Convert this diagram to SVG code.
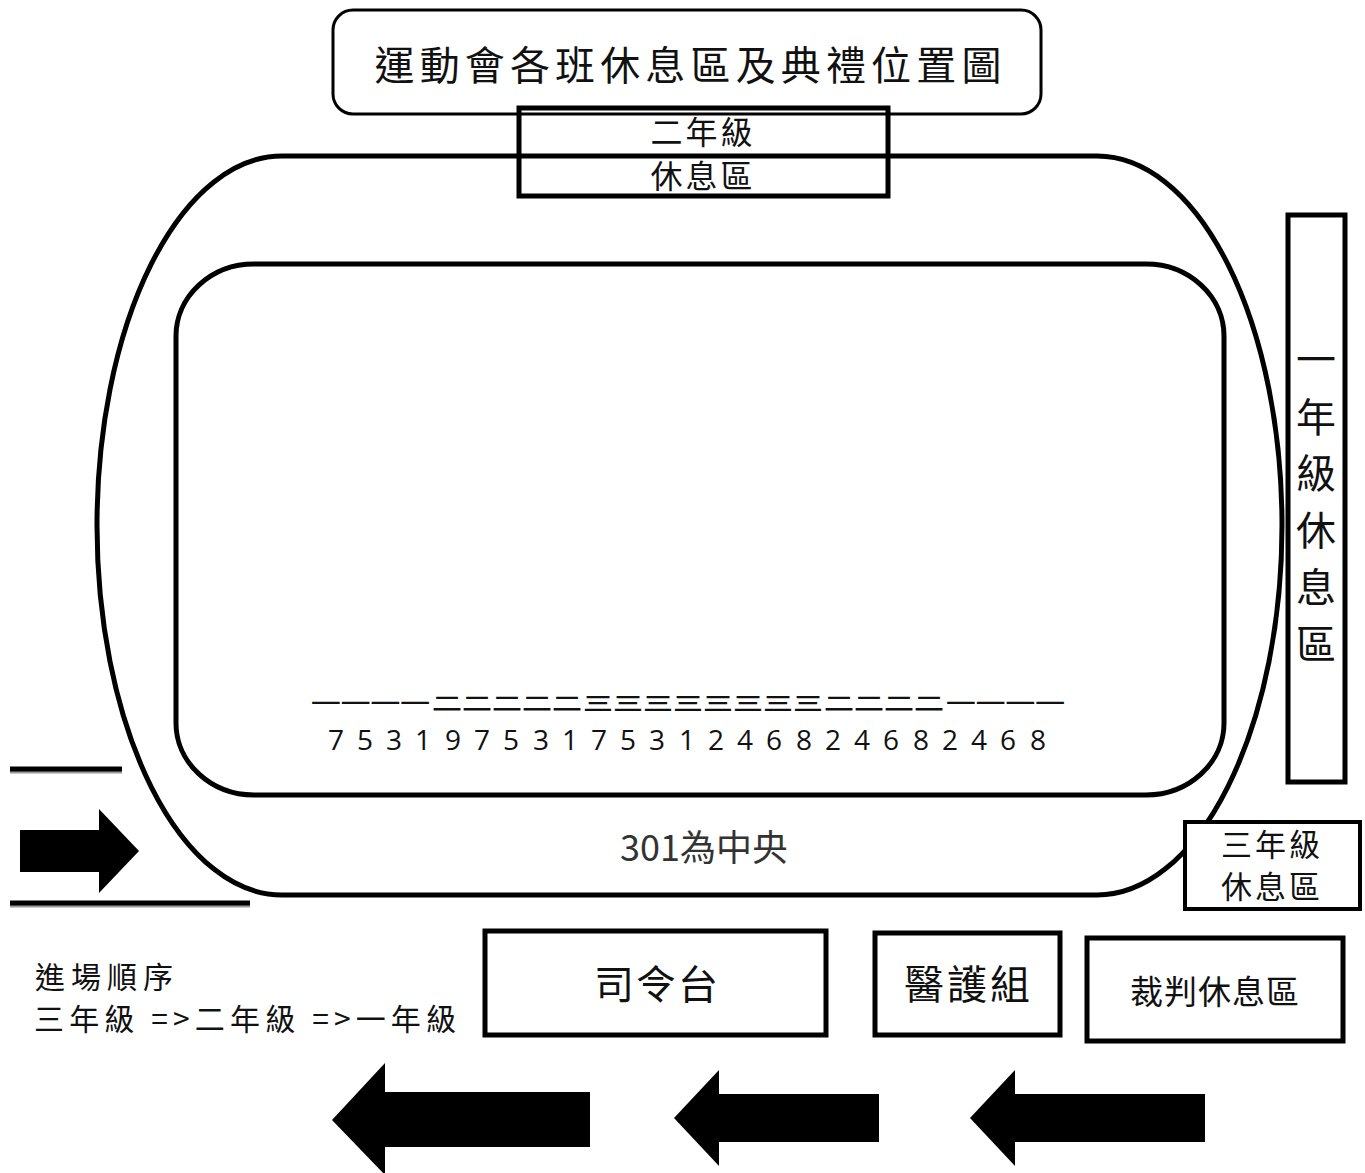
<svg xmlns="http://www.w3.org/2000/svg" width="1365" height="1173" viewBox="0 0 1365 1173">
<style>
text{font-family:"Noto Sans CJK TC","Noto Sans CJK JP",sans-serif;fill:#111;text-anchor:middle;font-weight:400}
.box{fill:none;stroke:#000;stroke-width:5}
.track{fill:none;stroke:#000;stroke-width:5}
.rule{stroke:#000;stroke-width:5}
.shadow{stroke:#999;stroke-width:3}
.num{font-family:"Open Sans","Liberation Sans",sans-serif;font-size:28px;font-weight:400}
.cn{font-size:30px;font-weight:700;text-anchor:start}
.left{text-anchor:start}
</style>
<rect width="1365" height="1173" fill="#fff"/>
<g id="track">
<rect class="track" x="97" y="156" width="1185" height="739" rx="185" ry="370"/>
<rect class="track" x="176" y="264" width="1048" height="531" rx="78" ry="72"/>
</g>
<g id="title">
<rect x="333" y="10" width="708" height="104" rx="20" fill="#fff" stroke="#000" stroke-width="3"/>
<text x="692" y="80" font-size="40" letter-spacing="8.1" textLength="635" lengthAdjust="spacing">運動會各班休息區及典禮位置圖</text>
</g>
<g id="grade2">
<rect class="box" x="519" y="108" width="369" height="88"/>
<text x="703" y="144" font-size="32" letter-spacing="3">二年級</text>
<text x="703" y="188" font-size="32" letter-spacing="3">休息區</text>
</g>
<g id="grade1">
<rect class="box" x="1288" y="215" width="57" height="567"/>
<text x="1316" y="374" font-size="40">一</text>
<text x="1316" y="432" font-size="40">年</text>
<text x="1316" y="488" font-size="40">級</text>
<text x="1316" y="545" font-size="40">休</text>
<text x="1316" y="602" font-size="40">息</text>
<text x="1316" y="659" font-size="40">區</text>
</g>
<g id="grade3">
<rect x="1185" y="822" width="175" height="87" fill="#fff" stroke="#000" stroke-width="4"/>
<text x="1272" y="856" font-size="31" letter-spacing="3">三年級</text>
<text x="1272" y="898" font-size="31" letter-spacing="3">休息區</text>
</g>
<g id="classes">
<g transform="translate(0,703) scale(1,.6)">
<text x="311" y="11" class="cn" textLength="119" lengthAdjust="spacingAndGlyphs">一一一一</text>
<text x="432" y="11" class="cn" textLength="150" lengthAdjust="spacingAndGlyphs">二二二二二</text>
<text x="583" y="11" class="cn" textLength="240" lengthAdjust="spacingAndGlyphs">三三三三三三三三</text>
<text x="824" y="11" class="cn" textLength="120" lengthAdjust="spacingAndGlyphs">二二二二</text>
<text x="946" y="11" class="cn" textLength="119" lengthAdjust="spacingAndGlyphs">一一一一</text>
</g>
<text class="num" y="750" x="336 365 394 423 453 482 511 541 570 599 628 657 687 716 745 774 804 833 862 891 921 950 979 1008 1038">7531975317531246824682468</text>
</g>
<g id="center-label"><text x="704" y="861" font-size="36" style="fill:#333">301為中央</text></g>
<g id="entrance">
<line class="shadow" x1="10" y1="772" x2="122" y2="772"/>
<line class="shadow" x1="10" y1="906" x2="250" y2="906"/>
<line class="rule" x1="10" y1="769" x2="122" y2="769"/>
<line class="rule" x1="10" y1="903" x2="250" y2="903"/>
<polygon points="20,830 99,830 99,809 139,851 99,893 99,872 20,872"/>
</g>
<g id="order">
<text class="left" x="35" y="988" font-size="30" textLength="138" lengthAdjust="spacing">進場順序</text>
<text class="left" x="34" y="1030" font-size="30" textLength="422" lengthAdjust="spacing">三年級 =&gt;二年級 =&gt;一年級</text>
</g>
<g id="stage">
<rect class="box" x="485" y="931" width="341" height="104"/>
<text x="656" y="999" font-size="40" textLength="124" lengthAdjust="spacing">司令台</text>
</g>
<g id="medical">
<rect class="box" x="875" y="933" width="185" height="102"/>
<text x="967" y="999" font-size="40" textLength="126" lengthAdjust="spacing">醫護組</text>
</g>
<g id="referee">
<rect class="box" x="1087" y="938" width="256" height="103"/>
<text x="1215" y="1004" font-size="33" letter-spacing="1">裁判休息區</text>
</g>
<g id="flow-arrows">
<polygon points="332,1120 385,1063 385,1092 590,1092 590,1147 385,1147 385,1175"/>
<polygon points="674,1118 719,1070 719,1094 879,1094 879,1142 719,1142 719,1166"/>
<polygon points="970,1118 1015,1070 1015,1094 1205,1094 1205,1142 1015,1142 1015,1166"/>
</g>
</svg>
